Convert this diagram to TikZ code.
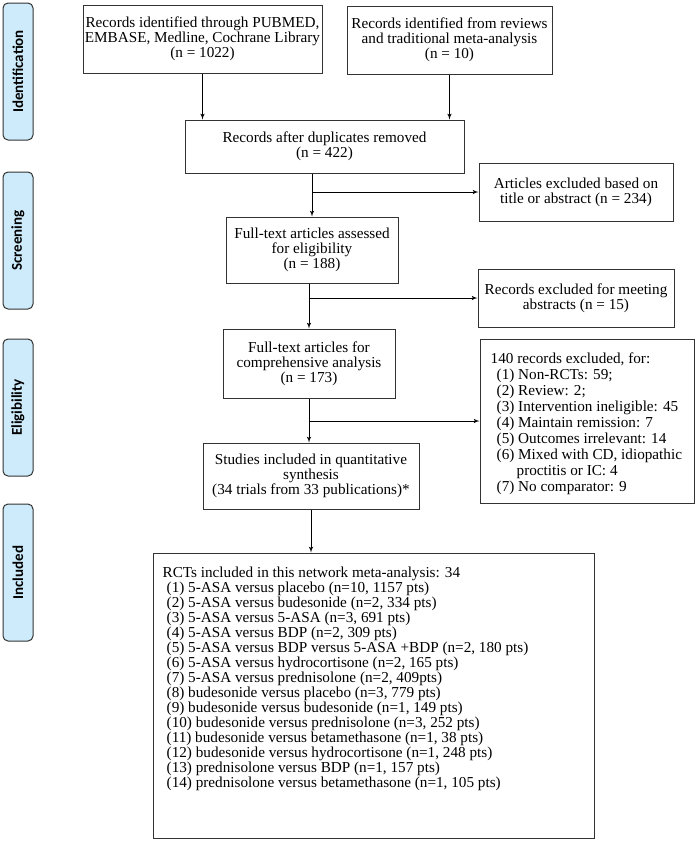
\documentclass[tikz,border=0pt]{standalone}
\usepackage{fontspec}
\setmainfont{Liberation Serif}
\newfontfamily\stagefont{Carlito}
\usetikzlibrary{arrows}
\usetikzlibrary{calc}
\definecolor{stagebg}{HTML}{CDEBFA}
\tikzstyle{block} = [rectangle, draw=black!80, line width=1pt, align=center, inner sep=0pt, font=\fontsize{15.2}{15}\selectfont]
\tikzstyle{listtext} = [align=left, inner sep=0pt, font=\fontsize{15.2}{15}\selectfont]
\tikzstyle{stage} = [rectangle, rounded corners=5pt, draw=black!80, line width=1pt, fill=stagebg, minimum width=137, minimum height=30, rotate=90, font=\stagefont\bfseries\fontsize{15}{15}\selectfont]
\tikzstyle{arrow} = [->,>=latex',line width=1pt]
\newcommand{\itemshift}{\hspace*{4pt}}
\newcommand{\reasonshift}{\hspace*{6pt}}

\begin{document}
\begin{tikzpicture}[x=1pt, y=-1pt]

  \useasboundingbox (0,0) rectangle (697,847);

  % stages on the left
  \node (ident)  [stage] at (18,71.5)  {Identification};
  \node (screen) [stage] at (18,240.5) {Screening};
  \node (elig)   [stage] at (18,407.5) {Eligibility};
  \node (incl)   [stage] at (18,572.5) {Included};

  % main column
  \node (pubmed)  [block, minimum width=239, minimum height=68] at (202.5,39) {Records identified through PUBMED,\\EMBASE, Medline, Cochrane Library\\(n = 1022)};
  \node (reviews) [block, minimum width=205, minimum height=68] at (449.5,40) {Records identified from reviews\\and traditional meta-analysis\\(n = 10)};
  \node (dedup)   [block, minimum width=279, minimum height=53] at (324.5,146.5) {Records after duplicates removed\\(n = 422)};
  \node (assessed) [block, minimum width=172, minimum height=66] at (312,250) {Full-text articles assessed\\for eligibility\\(n = 188)};
  \node (comprehensive) [block, minimum width=172, minimum height=69] at (309,363.5) {Full-text articles for\\comprehensive analysis\\(n = 173)};
  \node (studies) [block, minimum width=216, minimum height=66] at (311,476) {Studies included in quantitative\\synthesis\\(34 trials from 33 publications)*};
  \node (rcts)    [block, minimum width=441, minimum height=285] at (373.5,695.5) {};

  % exclusions on the right
  \node (titleex)   [block, minimum width=194, minimum height=58] at (576,192) {Articles excluded based on\\title or abstract (n = 234)};
  \node (meetingex) [block, minimum width=196, minimum height=58] at (576,298) {Records excluded for meeting\\abstracts (n = 15)};
  \node (recordsex) [block, minimum width=214, minimum height=164] at (587,421) {};

  \node (recordslist) [listtext, font=\fontsize{15.2}{16}\selectfont, anchor=north west] at ($(recordsex.north west)+(11,14)$) {%
    140 records excluded, for:\\
    \reasonshift(1) Non-RCTs: 59;\\
    \reasonshift(2) Review: 2;\\
    \reasonshift(3) Intervention ineligible: 45\\
    \reasonshift(4) Maintain remission: 7\\
    \reasonshift(5) Outcomes irrelevant: 14\\
    \reasonshift(6) Mixed with CD, idiopathic\\
    \hspace*{26pt}proctitis or IC: 4\\
    \reasonshift(7) No comparator: 9};

  \node (rctslist) [listtext, anchor=north west] at ($(rcts.north west)+(10,14)$) {%
    RCTs included in this network meta-analysis: 34\\
    \itemshift(1) 5-ASA versus placebo (n=10, 1157 pts)\\
    \itemshift(2) 5-ASA versus budesonide (n=2, 334 pts)\\
    \itemshift(3) 5-ASA versus 5-ASA (n=3, 691 pts)\\
    \itemshift(4) 5-ASA versus BDP (n=2, 309 pts)\\
    \itemshift(5) 5-ASA versus BDP versus 5-ASA +BDP (n=2, 180 pts)\\
    \itemshift(6) 5-ASA versus hydrocortisone (n=2, 165 pts)\\
    \itemshift(7) 5-ASA versus prednisolone (n=2, 409pts)\\
    \itemshift(8) budesonide versus placebo (n=3, 779 pts)\\
    \itemshift(9) budesonide versus budesonide (n=1, 149 pts)\\
    \itemshift(10) budesonide versus prednisolone (n=3, 252 pts)\\
    \itemshift(11) budesonide versus betamethasone (n=1, 38 pts)\\
    \itemshift(12) budesonide versus hydrocortisone (n=1, 248 pts)\\
    \itemshift(13) prednisolone versus BDP (n=1, 157 pts)\\
    \itemshift(14) prednisolone versus betamethasone (n=1, 105 pts)};

  % sources - dedup
  \draw [arrow] (pubmed.south) -- (pubmed.south |- dedup.north);
  \draw [arrow] (reviews.south) -- (reviews.south |- dedup.north);

  % dedup - assessed, with exclusion
  \draw [arrow] (assessed.north |- dedup.south) -- (assessed.north);
  \draw [arrow] (assessed.north |- titleex.west) -- (titleex.west);

  % assessed - comprehensive, with exclusion
  \draw [arrow] (comprehensive.north |- assessed.south) -- (comprehensive.north);
  \draw [arrow] (comprehensive.north |- meetingex.west) -- (meetingex.west);

  % comprehensive - studies, with exclusion
  \draw [arrow] (comprehensive.south) -- (comprehensive.south |- studies.north);
  \draw [arrow] (comprehensive.south |- recordsex.west) -- (recordsex.west);

  % studies - rcts
  \draw [arrow] (studies.south) -- (studies.south |- rcts.north);

\end{tikzpicture}
\end{document}
